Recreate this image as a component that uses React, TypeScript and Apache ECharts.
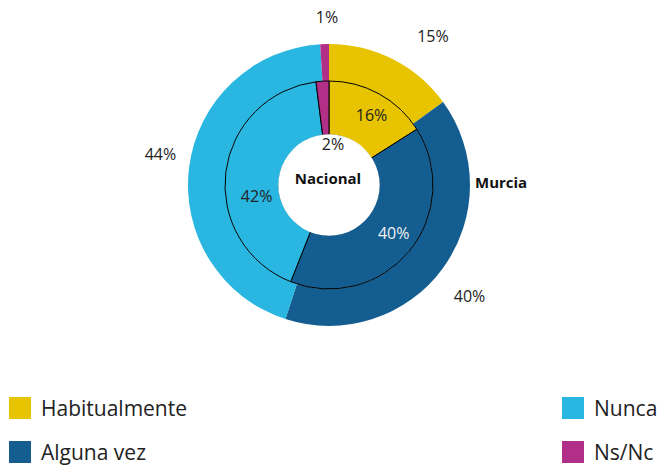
import React, { useEffect, useRef } from "react";
import * as echarts from "echarts";

const categories = ["Habitualmente", "Alguna vez", "Nunca", "Ns/Nc"];
const murcia = [15, 40, 44, 1];
const nacional = [16, 40, 42, 2];
const colors = ["#E8C300", "#135D90", "#29B6E1", "#B22F87"];
const legendLeft = ["Habitualmente", "Alguna vez"];
const legendRight = ["Nunca", "Ns/Nc"];

// label nudges (layout, not data)
const outerNudge = [
  [47, -37],
  [39, 37],
  [-44, -15],
  [2, -43],
];
const innerNudge = [
  [4, 0],
  [3, -3],
  [7, 21],
  [9, 39],
];

const FONT = "'Open Sans', 'Liberation Sans', sans-serif";

export default function App() {
  const ref = useRef<HTMLDivElement>(null);
  useEffect(() => {
    const chart = echarts.init(ref.current!, null, { renderer: "svg" });
    const center = [329, 185];
    const legendBase = {
      orient: "vertical",
      top: 397,
      padding: 0,
      itemWidth: 22,
      itemHeight: 22,
      itemGap: 22,
      icon: "rect",
      selectedMode: false,
      textStyle: { fontSize: 21, color: "#222", fontFamily: FONT, padding: [0, 0, 0, 5] },
    };
    chart.setOption({
      animation: false,
      color: colors,
      textStyle: { fontFamily: FONT },
      legend: [
        { ...legendBase, data: legendLeft, left: 9 },
        { ...legendBase, data: legendRight, left: 562 },
      ],
      graphic: [
        {
          type: "text",
          x: 328,
          y: 178,
          z: 100,
          style: {
            text: "Nacional",
            fill: "#111",
            font: `bold 15px ${FONT}`,
            align: "center",
            verticalAlign: "middle",
          },
        },
        {
          type: "text",
          x: 475,
          y: 182,
          z: 100,
          style: {
            text: "Murcia",
            fill: "#111",
            font: `bold 15px ${FONT}`,
            align: "left",
            verticalAlign: "middle",
          },
        },
      ],
      series: [
        {
          name: "Murcia",
          type: "pie",
          center,
          radius: [104, 141],
          startAngle: 90,
          clockwise: true,
          silent: true,
          avoidLabelOverlap: false,
          label: {
            show: true,
            position: "inside",
            formatter: "{c}%",
            color: "#222",
            fontSize: 16,
            fontFamily: FONT,
          },
          labelLine: { show: false },
          labelLayout: (p: any) => ({ dx: outerNudge[p.dataIndex][0], dy: outerNudge[p.dataIndex][1] }),
          data: categories.map((n, i) => ({ name: n, value: murcia[i] })),
        },
        {
          name: "Nacional",
          type: "pie",
          center,
          radius: [50, 104],
          startAngle: 90,
          clockwise: true,
          silent: true,
          avoidLabelOverlap: false,
          itemStyle: { borderColor: "#000", borderWidth: 1 },
          label: {
            show: true,
            position: "inside",
            formatter: "{c}%",
            color: "#222",
            fontSize: 16,
            fontFamily: FONT,
          },
          labelLine: { show: false },
          labelLayout: (p: any) => ({ dx: innerNudge[p.dataIndex][0], dy: innerNudge[p.dataIndex][1] }),
          data: categories.map((n, i) => ({
            name: n,
            value: nacional[i],
            label: i === 1 ? { color: "#f2f2f2" } : undefined,
          })),
        },
        {
          name: "hole-edge",
          type: "pie",
          center,
          radius: [48.3, 50.7],
          silent: true,
          label: { show: false },
          labelLine: { show: false },
          itemStyle: { color: "#ffffff" },
          data: [{ name: "_hole", value: 1, itemStyle: { color: "#ffffff" } }],
        },
      ],
    });
    return () => chart.dispose();
  }, []);
  return (
    <div
      ref={ref}
      style={{ position: "fixed", left: 0, top: 0, width: 657, height: 465, background: "#fff" }}
    />
  );
}
